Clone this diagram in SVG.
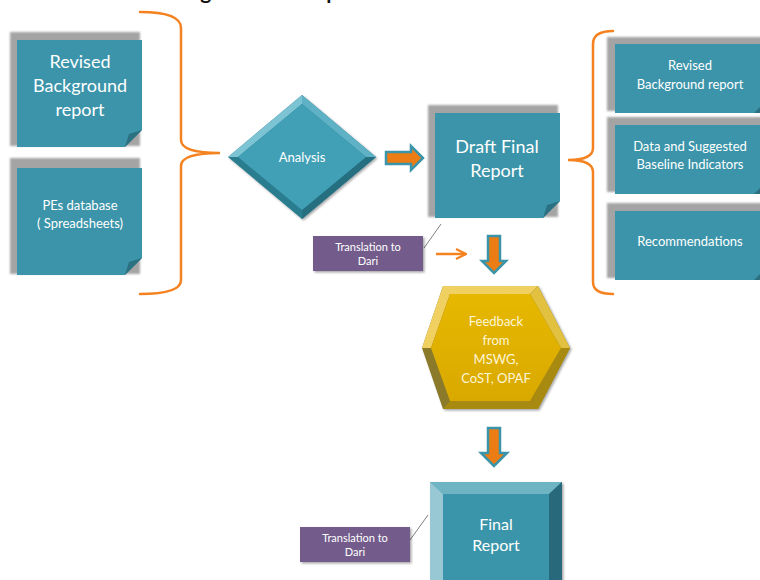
<svg xmlns="http://www.w3.org/2000/svg" width="760" height="580" viewBox="0 0 760 580">
<style>
.t{font-family:Lato,"Open Sans","Liberation Sans",sans-serif;fill:#ffffff;text-anchor:middle}
.shadow{fill:#a4a4a4;filter:url(#blur)}
.note{fill:#3b94a9}
.fold{fill:#2b7182}
.brace{fill:none;stroke:#f58220;stroke-width:2.5;stroke-linecap:round}
.purple{fill:#735b8b;filter:url(#sh)}
.lead{stroke:#7f7f7f;stroke-width:1;fill:none}
.barrow{fill:#ec7c14;stroke:#3a95aa;stroke-width:2.5}
</style>
<defs>
<filter id="blur" x="-10%" y="-10%" width="120%" height="120%"><feGaussianBlur stdDeviation="1.2"/></filter>
<filter id="sh" x="-10%" y="-10%" width="130%" height="140%"><feDropShadow dx="1.5" dy="1.5" stdDeviation="1.2" flood-color="#000" flood-opacity="0.35"/></filter>
<marker id="oa" viewBox="0 0 10 10" refX="9" refY="5" markerWidth="5" markerHeight="5" orient="auto"><path d="M1,1 L9,5 L1,9" fill="none" stroke="#f58220" stroke-width="1.8"/></marker>
<linearGradient id="hexg" x1="0" y1="0" x2="0" y2="1"><stop offset="0" stop-color="#e6b800"/><stop offset="1" stop-color="#d9a900"/></linearGradient>
</defs>

<text x="33" y="-1" style="font-family:Lato,'Liberation Sans',sans-serif;font-weight:bold;font-size:21px;fill:#111">Process of Drafting the Final Report</text>

<g id="connectors">
<path class="brace" d="M140,12 Q181,12 181,28 L181,140 Q181,153 220,153 Q181,153 181,166 L181,280 Q181,294 140,294"/>
<path class="brace" d="M613,31 Q593,31 593,44 L593,148 Q593,160 568,160 Q593,160 593,172 L593,282 Q593,294 613,294"/>
<path class="barrow" d="M386,152 L411,152 L411,146 L423,158 L411,170 L411,164 L386,164 Z"/>
<path class="barrow" d="M488,236 L500,236 L500,261 L506,261 L494,273 L482,261 L488,261 Z"/>
<path class="barrow" d="M488,428 L500,428 L500,453 L507,453 L494,466 L481,453 L488,453 Z"/>
<line x1="436" y1="254" x2="466" y2="254" stroke="#f58220" stroke-width="2.5" marker-end="url(#oa)"/>
<line class="lead" x1="424" y1="248" x2="441" y2="224"/>
<line class="lead" x1="410" y1="540" x2="428" y2="515"/>
</g>

<g id="revised-bg-left">
<rect class="shadow" x="10" y="32" width="130" height="114"/>
<path class="note" d="M17,40 L142,40 L142,130 L125,147 L17,147 Z"/>
<path class="fold" d="M125,147 L142,130 L129,134 Z"/>
<text class="t" x="80" y="68" font-size="18">Revised</text>
<text class="t" x="80" y="92" font-size="18">Background</text>
<text class="t" x="80" y="116" font-size="18">report</text>
</g>

<g id="pes-database">
<rect class="shadow" x="10" y="158" width="130" height="116"/>
<path class="note" d="M17,168 L142,168 L142,258 L125,275 L17,275 Z"/>
<path class="fold" d="M125,275 L142,258 L129,262 Z"/>
<text class="t" x="80" y="210" font-size="13">PEs database</text>
<text class="t" x="80" y="228" font-size="13">( Spreadsheets)</text>
</g>

<g id="analysis">
<polygon points="228,157 302,95 376,157 302,219" fill="#2c7b8f" filter="url(#sh)"/>
<polygon points="228,157 302,95 302,104 238,157" fill="#7cc3d4"/>
<polygon points="302,95 376,157 366,157 302,104" fill="#5fb2c5"/>
<polygon points="376,157 302,219 302,210 366,157" fill="#256f81"/>
<polygon points="238,157 302,104 366,157 302,210" fill="#41a0b6"/>
<text class="t" x="302" y="162" font-size="13">Analysis</text>
</g>

<g id="draft-final-report">
<rect class="shadow" x="428" y="105" width="130" height="112"/>
<path class="note" d="M435,113 L560,113 L560,201 L543,218 L435,218 Z"/>
<path class="fold" d="M543,218 L560,201 L547,205 Z"/>
<text class="t" x="497" y="153" font-size="18">Draft Final</text>
<text class="t" x="497" y="177" font-size="18">Report</text>
</g>

<g id="translation-1">
<rect class="purple" x="313" y="236" width="110" height="35"/>
<text class="t" x="368" y="251" font-size="11">Translation to</text>
<text class="t" x="368" y="265" font-size="11">Dari</text>
</g>

<g id="revised-bg-right">
<rect class="shadow" x="607" y="37" width="160" height="74"/>
<path class="note" d="M615,44 L760,44 L760,113 L615,113 Z"/>
<path class="fold" d="M754,113 L760,107 L760,113 Z"/>
<text class="t" x="690" y="70" font-size="13">Revised</text>
<text class="t" x="690" y="89" font-size="13">Background report</text>
</g>

<g id="data-indicators">
<rect class="shadow" x="607" y="117" width="160" height="75"/>
<path class="note" d="M615,125 L760,125 L760,194 L615,194 Z"/>
<path class="fold" d="M754,194 L760,188 L760,194 Z"/>
<text class="t" x="690" y="151" font-size="13">Data and Suggested</text>
<text class="t" x="690" y="169" font-size="13">Baseline Indicators</text>
</g>

<g id="recommendations">
<rect class="shadow" x="607" y="203" width="160" height="75"/>
<path class="note" d="M615,211 L760,211 L760,280 L615,280 Z"/>
<path class="fold" d="M754,280 L760,274 L760,280 Z"/>
<text class="t" x="690" y="246" font-size="13">Recommendations</text>
</g>

<g id="feedback">
<polygon points="422,348 443,286 538,286 570,348 538,409 443,409" fill="#8a7a2a" filter="url(#sh)"/>
<polygon points="422,348 443,286 538,286 530,294 450,294 431,348" fill="#f0d060"/>
<polygon points="538,286 570,348 561,348 530,294" fill="#e2c040"/>
<polygon points="570,348 538,409 443,409 450,401 530,401 561,348" fill="#a88a10"/>
<polygon points="431,348 450,294 530,294 561,348 530,401 450,401" fill="url(#hexg)"/>
<text class="t" x="496" y="326" font-size="13" style="fill:#fdf5d8">Feedback</text>
<text class="t" x="496" y="345" font-size="13" style="fill:#fdf5d8">from</text>
<text class="t" x="496" y="364" font-size="13" style="fill:#fdf5d8">MSWG,</text>
<text class="t" x="496" y="383" font-size="13" style="fill:#fdf5d8">CoST, OPAF</text>
</g>

<g id="final-report">
<rect x="430" y="482" width="132" height="110" fill="#3b95aa" filter="url(#sh)"/>
<polygon points="430,482 562,482 549,494 443,494" fill="#6eb4c3"/>
<polygon points="430,482 443,494 443,590 430,590" fill="#98c8d3"/>
<polygon points="562,482 562,590 549,590 549,494" fill="#286a7b"/>
<rect x="443" y="494" width="106" height="96" fill="#3b95aa"/>
<text class="t" x="496" y="530" font-size="16">Final</text>
<text class="t" x="496" y="551" font-size="16">Report</text>
</g>

<g id="translation-2">
<rect class="purple" x="300" y="527" width="110" height="35"/>
<text class="t" x="355" y="542" font-size="11">Translation to</text>
<text class="t" x="355" y="556" font-size="11">Dari</text>
</g>
</svg>
